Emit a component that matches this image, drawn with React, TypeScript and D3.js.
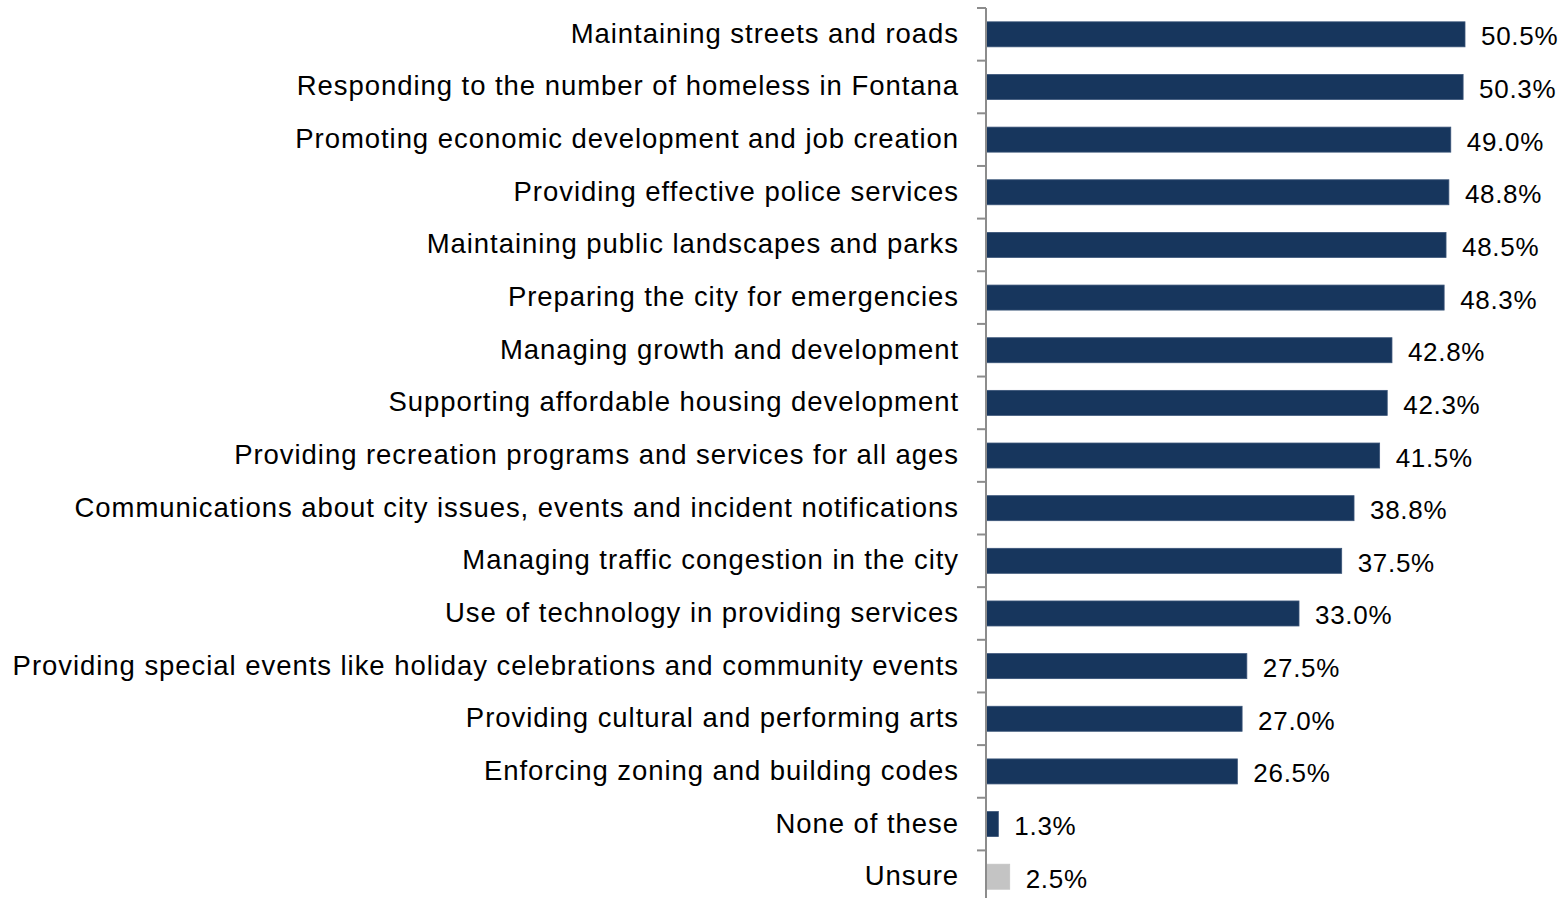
import React from "react";
import * as d3 from "d3";

const categories = [
  "Maintaining streets and roads",
  "Responding to the number of homeless in Fontana",
  "Promoting economic development and job creation",
  "Providing effective police services",
  "Maintaining public landscapes and parks",
  "Preparing the city for emergencies",
  "Managing growth and development",
  "Supporting affordable housing development",
  "Providing recreation programs and services for all ages",
  "Communications about city issues, events and incident notifications",
  "Managing traffic congestion in the city",
  "Use of technology in providing services",
  "Providing special events like holiday celebrations and community events",
  "Providing cultural and performing arts",
  "Enforcing zoning and building codes",
  "None of these",
  "Unsure",
];
const values = [50.5, 50.3, 49.0, 48.8, 48.5, 48.3, 42.8, 42.3, 41.5, 38.8, 37.5, 33.0, 27.5, 27.0, 26.5, 1.3, 2.5];
const highlight = ["Unsure"];

const W = 1562;
const H = 898;
const axisX = 986;
const FONT = "'Liberation Sans', Arial, sans-serif";

export default function App() {
  const x = d3.scaleLinear().domain([0, 50.5]).range([axisX, 1465]);
  const y = d3
    .scaleBand<string>()
    .domain(categories)
    .range([8, 8 + 17 * 52.65])
    .paddingInner(0.525)
    .paddingOuter(0.2625);
  const step = y.step();
  const ticks = d3.range(categories.length + 1).map((i) => 8 + i * step);
  return (
    <svg width={W} height={H} style={{ position: "absolute", left: 0, top: 0, background: "#fff" }}>
      <g>
        {categories.map((c, i) => {
          const yy = y(c)!;
          const bw = y.bandwidth();
          const grey = highlight.includes(c);
          return (
            <g key={c}>
              <rect
                x={axisX}
                y={yy}
                width={x(values[i]) - axisX}
                height={bw}
                fill={grey ? "#c4c4c4" : "#17365d"}
                stroke={grey ? "#c4c4c4" : "#3a5478"}
                strokeWidth={0.8}
              />
              <text
                x={axisX - 27}
                y={yy + bw / 2 - 1}
                textAnchor="end"
                dominantBaseline="central"
                fontFamily={FONT}
                fontSize={27.5}
                letterSpacing={0.95}
                fill="#000"
              >
                {c}
              </text>
              <text
                x={x(values[i]) + 16}
                y={yy + bw / 2 + 2}
                dominantBaseline="central"
                fontFamily={FONT}
                fontSize={26}
                letterSpacing={0.7}
                fill="#000"
              >
                {values[i].toFixed(1) + "%"}
              </text>
            </g>
          );
        })}
      </g>
      <line x1={axisX} x2={axisX} y1={8} y2={H} stroke="#8c8c8c" strokeWidth={2} />
      {ticks.map((t, i) => (
        <line key={i} x1={axisX - 9} x2={axisX} y1={t} y2={t} stroke="#8c8c8c" strokeWidth={2} />
      ))}
    </svg>
  );
}
